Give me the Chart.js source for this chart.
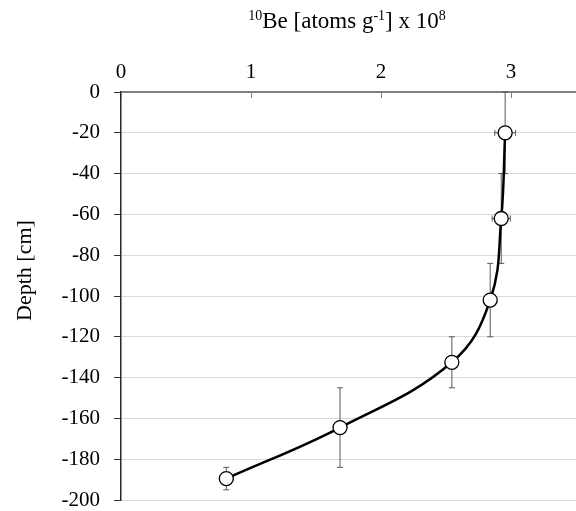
<!DOCTYPE html>
<html>
<head>
<meta charset="utf-8">
<script src="https://cdn.jsdelivr.net/npm/chart.js@4"></script>
<style>
html,body{margin:0;padding:0;background:#fff;}
#wrap{width:576px;height:511px;position:relative;}
canvas{display:block;}
</style>
</head>
<body>
<div id="wrap"><canvas id="c" width="576" height="511"></canvas></div>
<script>
// ---- data ----
const be10 = [2.955, 2.925, 2.84, 2.545, 1.685, 0.81];        // 10Be [atoms g-1] x 10^8
const be10Err = [0.08, 0.07, 0.05, 0.05, 0.05, 0.05];          // +/- 10Be error
const depth = [-20, -62, -102, -132.5, -164.5, -189.5];        // sample mid-depth [cm]
const depthTop = [0, -40, -84, -120, -145, -184];              // sample interval top [cm]
const depthBottom = [-40, -84, -120, -145, -184, -195];        // sample interval bottom [cm]
const xTickValues = [0, 1, 2, 3];
const yTickValues = [0, -20, -40, -60, -80, -100, -120, -140, -160, -180, -200];
const xTitleParts = [["10", true], ["Be [atoms g", false], ["-1", true], ["] x 10", false], ["8", true]];
const yTitle = "Depth [cm]";

const points = be10.map((v, i) => ({x: v, y: depth[i]}));
const FONT = '"Liberation Serif", "Times New Roman", serif';

function noPad(s) { s.paddingTop = 0; s.paddingBottom = 0; s.paddingLeft = 0; s.paddingRight = 0; }

const errorBars = {
  id: 'errorBars',
  beforeDatasetsDraw(chart) {
    const ctx = chart.ctx, xs = chart.scales.x, ys = chart.scales.y;
    ctx.save();
    ctx.strokeStyle = '#595959';
    ctx.lineWidth = 1;
    const cap = 3;
    for (let i = 0; i < be10.length; i++) {
      const px = xs.getPixelForValue(be10[i]);
      const py = ys.getPixelForValue(depth[i]);
      const t = ys.getPixelForValue(depthTop[i]);
      const b = ys.getPixelForValue(depthBottom[i]);
      ctx.beginPath();
      ctx.moveTo(px, t); ctx.lineTo(px, b);
      ctx.moveTo(px - cap, t); ctx.lineTo(px + cap, t);
      ctx.moveTo(px - cap, b); ctx.lineTo(px + cap, b);
      const l = xs.getPixelForValue(be10[i] - be10Err[i]);
      const r = xs.getPixelForValue(be10[i] + be10Err[i]);
      ctx.moveTo(l, py); ctx.lineTo(r, py);
      ctx.moveTo(l, py - cap); ctx.lineTo(l, py + cap);
      ctx.moveTo(r, py - cap); ctx.lineTo(r, py + cap);
      ctx.stroke();
    }
    ctx.restore();
  },
  afterDraw(chart) {
    const ctx = chart.ctx, xs = chart.scales.x, area = chart.chartArea;
    ctx.save();
    // inward x ticks
    ctx.strokeStyle = '#7f7f7f';
    ctx.lineWidth = 1;
    ctx.beginPath();
    xTickValues.forEach(v => {
      const px = Math.round(xs.getPixelForValue(v)) + 0.5;
      ctx.moveTo(px, area.top); ctx.lineTo(px, area.top + 6);
    });
    ctx.stroke();
    // x title with superscripts
    const big = '23px ' + FONT, small = '14px ' + FONT;
    let total = 0;
    xTitleParts.forEach(([t, sup]) => { ctx.font = sup ? small : big; total += ctx.measureText(t).width; });
    let x = 347 - total / 2;
    const base = 28;
    ctx.fillStyle = '#000';
    ctx.textBaseline = 'alphabetic';
    ctx.textAlign = 'left';
    xTitleParts.forEach(([t, sup]) => {
      ctx.font = sup ? small : big;
      ctx.fillText(t, x, sup ? base - 8 : base);
      x += ctx.measureText(t).width;
    });
    // y title
    ctx.translate(31, 270.5);
    ctx.rotate(-Math.PI / 2);
    ctx.font = '22px ' + FONT;
    ctx.textAlign = 'center';
    ctx.textBaseline = 'alphabetic';
    ctx.fillText(yTitle, 0, 0);
    ctx.restore();
  }
};

new Chart(document.getElementById('c'), {
  type: 'scatter',
  data: {
    datasets: [{
      data: points,
      showLine: true,
      tension: 0.4,
      borderColor: '#000',
      borderWidth: 2.5,
      pointRadius: 7,
      pointHoverRadius: 7,
      pointBackgroundColor: '#fff',
      pointBorderColor: '#000',
      pointBorderWidth: 1.3
    }]
  },
  plugins: [errorBars],
  options: {
    responsive: false,
    animation: false,
    devicePixelRatio: 1,
    layout: {autoPadding: false, padding: {left: 0, top: 0, right: -1, bottom: 11}},
    plugins: {legend: {display: false}, tooltip: {enabled: false}},
    scales: {
      x: {
        type: 'linear',
        position: 'top',
        min: 0, max: 3.5,
        afterBuildTicks: s => { s.ticks = xTickValues.map(v => ({value: v})); },
        afterFit: s => { s.height = 92; noPad(s); },
        grid: {display: true, drawOnChartArea: false, drawTicks: false},
        border: {display: true, color: '#808080', width: 2},
        ticks: {color: '#000', padding: 7, font: {family: FONT, size: 21}, maxRotation: 0}
      },
      y: {
        type: 'linear',
        position: 'left',
        min: -200, max: 0,
        afterBuildTicks: s => { s.ticks = yTickValues.map(v => ({value: v})); },
        afterFit: s => { s.width = 121; noPad(s); },
        grid: {display: true, color: '#d9d9d9', lineWidth: 1, tickLength: 7, tickColor: '#333'},
        border: {display: true, color: '#262626', width: 1.5},
        ticks: {color: '#000', padding: 14, font: {family: FONT, size: 21}}
      }
    }
  }
});
</script>
</body>
</html>
